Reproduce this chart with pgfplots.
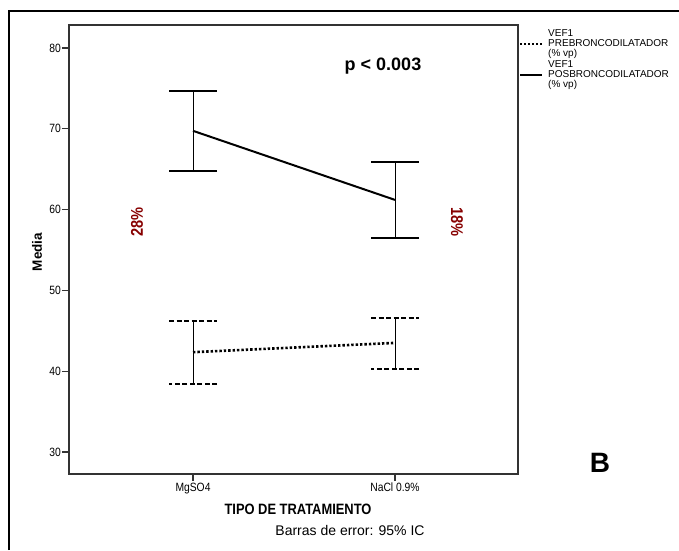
\documentclass[border=0pt]{standalone}
\usepackage{pgfplots}
\pgfplotsset{compat=1.18}
\usepackage{fontspec}
\setmainfont{Liberation Sans}
\newfontfamily\narrow[FakeStretch=0.86]{Liberation Sans}
\definecolor{dred}{RGB}{135,0,0}
\begin{document}
\begin{tikzpicture}[x=1pt,y=1pt]
\useasboundingbox (0,0) rectangle (679,550);
\draw[line width=1.6pt] (9,0) -- (9,539) -- (680,539);
\begin{axis}[at={(69pt,76pt)}, anchor=south west, scale only axis,
  width=449pt, height=449pt,
  xmin=-0.614, xmax=1.609, ymin=27.27, ymax=82.85,
  xtick={0,1}, xticklabels={MgSO4, NaCl 0.9\%},
  ytick={30,40,50,60,70,80},
  tick align=outside, tick pos=left, major tick length=7pt,
  axis line style={line width=1.1pt, black!80},
  every tick/.style={line width=1.1pt, black!80},
  /pgf/number format/assume math mode=true,
  ticklabel style={font=\narrow\fontsize{12}{14}\selectfont},
  yticklabel style={inner sep=1pt},
  xticklabel style={inner sep=2pt},
  clip=false]
\addplot[black, line width=2pt, mark=none,
  error bars/.cd, y dir=both, y explicit,
  error bar style={solid, line width=1pt},
  error mark=|,
  error mark options={solid, mark size=24pt, line width=1.6pt}]
  coordinates {
  (0,69.75) += (0,4.92) -= (0,4.95)
  (1,61.2) += (0,4.7) -= (0,4.7)
  };
\addplot[black, line width=2.6pt, dash pattern=on 2.4pt off 2pt, mark=none,
  error bars/.cd, y dir=both, y explicit,
  error bar style={solid, line width=1pt},
  error mark=|,
  error mark options={mark size=24pt, line width=1.4pt, dash pattern=on 5pt off 2.5pt}]
  coordinates {
  (0,42.35) += (0,3.85) -= (0,3.95)
  (1,43.5) += (0,3.1) -= (0,3.25)
  };
\end{axis}
% legend
\draw[black, line width=2.4pt, dash pattern=on 2.4pt off 1.6pt] (520,506) -- (542,506);
\draw[black, line width=2pt] (520,475) -- (542,475);
\node[anchor=west, font=\fontsize{10}{10}\selectfont, align=left, inner sep=0pt] at (548,506) {VEF1\\PREBRONCODILATADOR\\(\% vp)};
\node[anchor=west, font=\fontsize{10}{10}\selectfont, align=left, inner sep=0pt] at (548,475) {VEF1\\POSBRONCODILATADOR\\(\% vp)};
% annotations
\node[font=\bfseries\fontsize{18}{20}\selectfont] at (383,484) {p < 0.003};
\node[font=\narrow\bfseries\fontsize{17}{19}\selectfont, text=dred, rotate=90] at (137,328) {28\%};
\node[font=\narrow\bfseries\fontsize{17}{19}\selectfont, text=dred, rotate=-90] at (457,328) {18\%};
\node[font=\bfseries\fontsize{28}{30}\selectfont] at (600,87) {B};
\node[font=\bfseries\fontsize{13.5}{15}\selectfont, rotate=90] at (37,298) {Media};
\node[font=\narrow\bfseries\fontsize{15}{17}\selectfont] at (298,41) {TIPO DE TRATAMIENTO};
\node[font=\fontsize{14}{16}\selectfont] at (350,20) {Barras de error: 95\% IC};
\end{tikzpicture}
\end{document}
